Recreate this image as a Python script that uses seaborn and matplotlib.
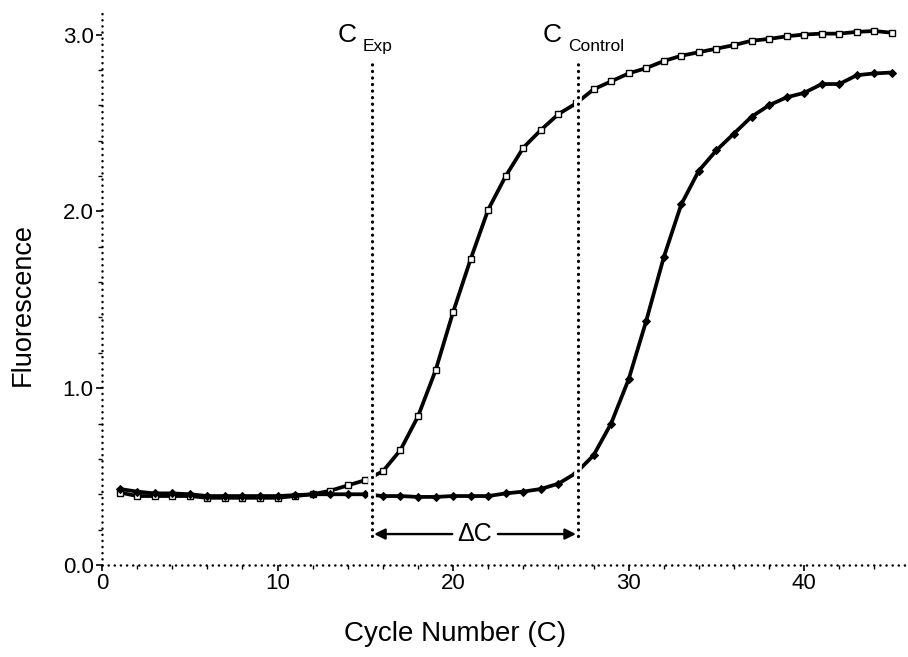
import numpy as np
import pandas as pd
import matplotlib
matplotlib.use("Agg")
import matplotlib.pyplot as plt
import seaborn as sns
from matplotlib.ticker import MultipleLocator, FormatStrFormatter

cycles = list(range(1, 46))
exp_values = [0.41, 0.39, 0.39, 0.39, 0.39, 0.38, 0.38, 0.38, 0.38, 0.38,
              0.39, 0.40, 0.42, 0.45, 0.48, 0.53, 0.65, 0.84, 1.10, 1.43,
              1.73, 2.01, 2.20, 2.36, 2.46, 2.55, 2.61, 2.69, 2.735, 2.78,
              2.81, 2.85, 2.88, 2.90, 2.92, 2.94, 2.965, 2.975, 2.99, 3.00,
              3.005, 3.005, 3.015, 3.02, 3.01]
control_values = [0.43, 0.415, 0.405, 0.405, 0.40, 0.39, 0.39, 0.39, 0.39, 0.39,
                  0.395, 0.40, 0.40, 0.40, 0.40, 0.39, 0.39, 0.385, 0.385, 0.39,
                  0.39, 0.39, 0.405, 0.415, 0.43, 0.46, 0.52, 0.62, 0.80, 1.05,
                  1.38, 1.74, 2.04, 2.23, 2.345, 2.44, 2.535, 2.60, 2.645, 2.67,
                  2.72, 2.72, 2.77, 2.78, 2.785]
threshold_cycles = [15.4, 27.1]
threshold_labels = [("C", "Exp"), ("C", "Control")]
y_ticks = [0.0, 1.0, 2.0, 3.0]
x_ticks = [0, 10, 20, 30, 40]

sns.set_style("white", {"text.color": "black", "axes.labelcolor": "black",
                        "xtick.color": "black", "ytick.color": "black"})
plt.rcParams['font.family'] = ['Liberation Sans', 'DejaVu Sans']
plt.rcParams['text.color'] = 'black'
plt.rcParams['axes.labelcolor'] = 'black'

fig = plt.figure(figsize=(9.08, 6.57), dpi=100)
ax = fig.add_axes([102/908, (657-565)/657, (906-102)/908, (565-8)/657])

df = pd.DataFrame({"Cycle": cycles * 2,
                   "Fluorescence": exp_values + control_values,
                   "Series": ["Exp"] * len(cycles) + ["Control"] * len(cycles)})

sns.lineplot(data=df[df.Series == "Exp"], x="Cycle", y="Fluorescence", ax=ax,
             color="black", lw=2.7, marker="s", markersize=4.6,
             markerfacecolor="white", markeredgecolor="black", markeredgewidth=1.0,
             zorder=3)
sns.lineplot(data=df[df.Series == "Control"], x="Cycle", y="Fluorescence", ax=ax,
             color="black", lw=2.7, marker="D", markersize=4.2,
             markerfacecolor="black", markeredgecolor="black", zorder=3)

ax.set_xlim(0, 45.8)
ax.set_ylim(0, 3.15)

arrow_y = 0.175
top_y = 2.85
for xc in threshold_cycles:
    ax.plot([xc, xc], [arrow_y - 0.01, top_y], color="white", lw=5.5, zorder=4,
            solid_capstyle="butt")
    ax.plot([xc, xc], [arrow_y - 0.01, top_y], color="black", lw=2.3, zorder=5,
            linestyle=(0, (0.05, 2.0)), dash_capstyle="round")

# labels C Exp / C Control
for xc, (big, small) in zip(threshold_cycles, threshold_labels):
    ax.text(xc - 0.9, 3.0, big, fontsize=19, ha="right", va="center", zorder=6,
            color="black")
    ax.text(xc - 0.55, 2.93, small, fontsize=12.5, ha="left", va="center", zorder=6,
            color="black")

# Delta C arrow
mid = (threshold_cycles[0] + threshold_cycles[1]) / 2
ax.annotate("", xy=(threshold_cycles[0] + 0.1, arrow_y), xytext=(mid - 1.3, arrow_y),
            arrowprops=dict(arrowstyle="-|>", color="black", lw=1.7,
                            mutation_scale=16, shrinkA=0, shrinkB=0), zorder=6)
ax.annotate("", xy=(threshold_cycles[1] - 0.1, arrow_y), xytext=(mid + 1.3, arrow_y),
            arrowprops=dict(arrowstyle="-|>", color="black", lw=1.7,
                            mutation_scale=16, shrinkA=0, shrinkB=0), zorder=6)
ax.text(mid, arrow_y, "ΔC", fontsize=18, ha="center", va="center", zorder=6,
        color="black")

# axes styling
for s in ["top", "right"]:
    ax.spines[s].set_visible(False)
for s in ["left", "bottom"]:
    ax.spines[s].set_linestyle((0, (0.05, 2.4)))
    ax.spines[s].set_linewidth(1.8)
    ax.spines[s].set_capstyle("round")
    ax.spines[s].set_color("black")

ax.set_xticks(x_ticks)
ax.set_yticks(y_ticks)
ax.yaxis.set_major_formatter(FormatStrFormatter("%.1f"))
ax.xaxis.set_minor_locator(MultipleLocator(2))
ax.yaxis.set_minor_locator(MultipleLocator(0.2))
ax.tick_params(axis="both", which="major", direction="out", length=4, width=1.2,
               labelsize=16, color="black", labelcolor="black", pad=2)
ax.tick_params(axis="both", which="minor", direction="out", length=3, width=1.0,
               color="black")
ax.tick_params(left=True, bottom=True, which="both")

ax.set_xlabel("Cycle Number (C)", fontsize=20, color="black")
ax.set_ylabel("Fluorescence", fontsize=19.5, color="black")
ax.xaxis.set_label_coords(0.439, -0.1)
ax.yaxis.set_label_coords(-0.083, 0.467)
ax.grid(False)

fig.savefig("out.png", dpi=100)
